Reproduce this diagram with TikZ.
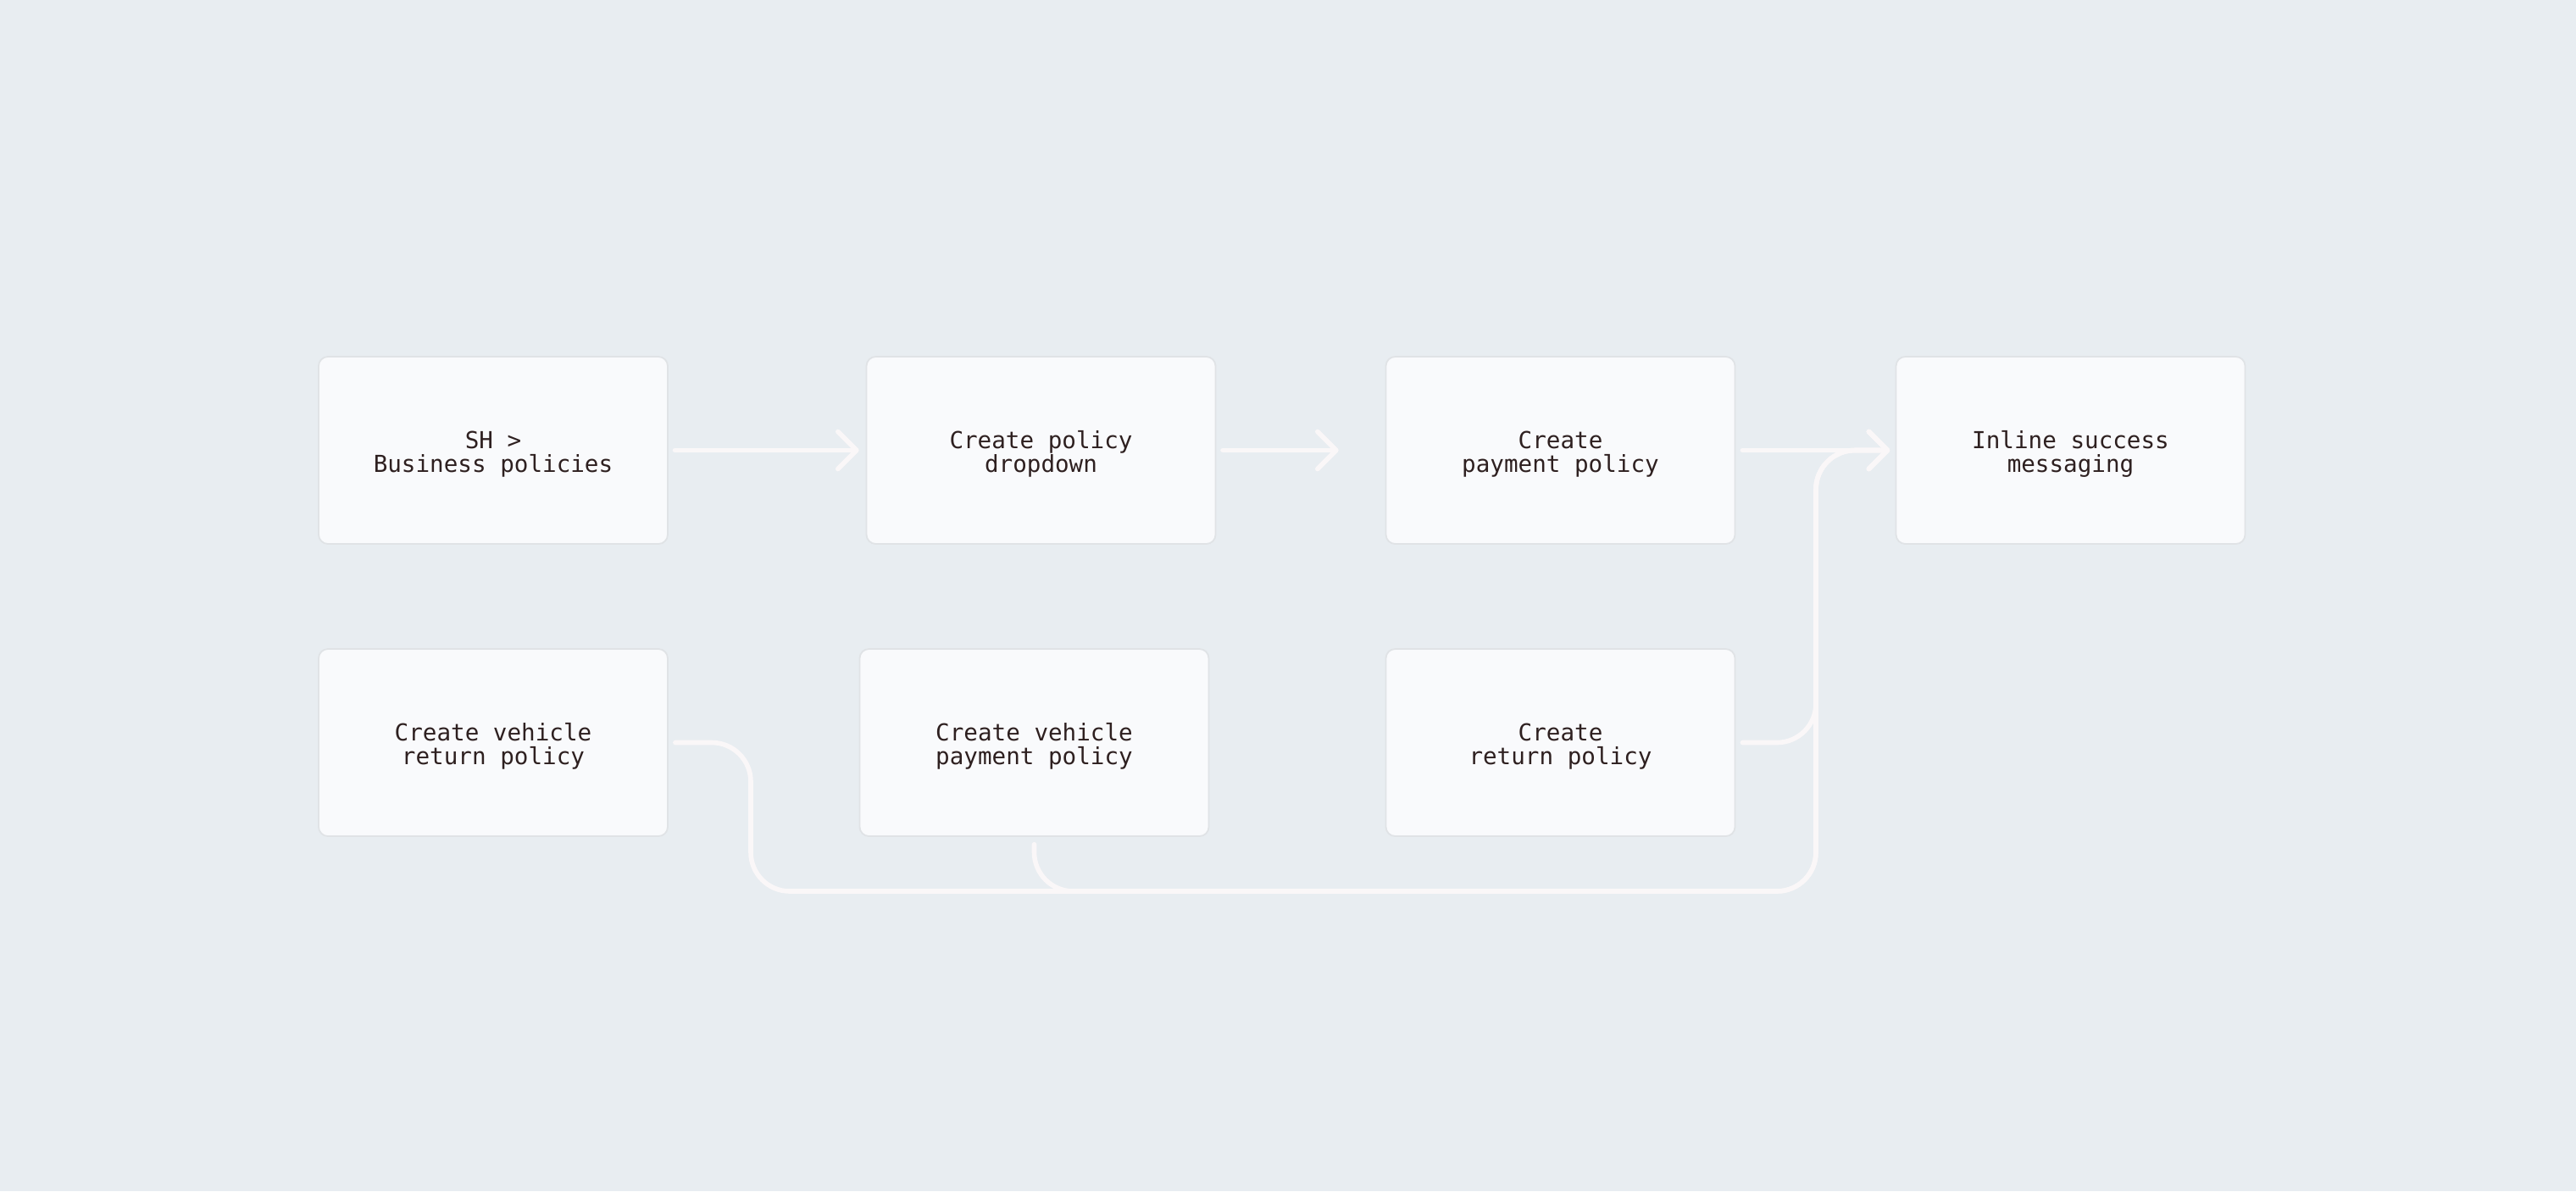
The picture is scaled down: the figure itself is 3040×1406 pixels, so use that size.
\documentclass[tikz,border=0pt]{standalone}
\usepackage{fontspec}
\setmonofont{DejaVu Sans Mono}
\usetikzlibrary{arrows.meta}
\definecolor{bgc}{RGB}{232,237,241}
\definecolor{boxfill}{RGB}{249,250,252}
\definecolor{boxline}{RGB}{224,227,230}
\definecolor{linec}{RGB}{250,247,248}
\definecolor{txtc}{RGB}{46,32,32}
\newcommand{\topstrut}{\rule{0pt}{7.3pt}}
\begin{document}
\begin{tikzpicture}[x=0.25pt,y=-0.25pt,
  box/.style={draw=boxline, line width=0.45pt, fill=boxfill, rounded corners=2.75pt,
    minimum width=103pt, minimum height=55.25pt, align=center, inner sep=0pt,
    text=txtc, font=\fontsize{6.9pt}{7pt}\selectfont\ttfamily},
  conn/.style={draw=linec, line width=1.4pt, line cap=round, line join=round,
    rounded corners=11.5pt},
  tip/.style={-{Straight Barb[length=5.5pt,width=11pt,round]}}
]
\fill[bgc] (0,0) rectangle (3040,1406);
\useasboundingbox (0,0) rectangle (3040,1406);

\node[box] (b1) at (582,531.5) {\topstrut SH >\\Business policies};
\node[box] (b2) at (1228.5,531.5) {\topstrut Create policy\\dropdown};
\node[box] (b3) at (1841.5,531.5) {\topstrut Create\\payment policy};
\node[box] (b4) at (2443.5,531.5) {\topstrut Inline success\\messaging};
\node[box] (b5) at (582,876.5) {\topstrut Create vehicle\\return policy};
\node[box] (b6) at (1220.5,876.5) {\topstrut Create vehicle\\payment policy};
\node[box] (b7) at (1841.5,876.5) {\topstrut Create\\return policy};

\coordinate (tb) at (2143,1052);
\coordinate (tt) at (2143,531.5);
\coordinate (tm) at (2143,876.5);
\coordinate (l5) at (886,876.5);
\coordinate (l5b) at (886,1052);
\coordinate (l6b) at (1220.5,1052);

\draw[conn, tip, shorten <=1.9pt, shorten >=2pt] (b1.east) -- (b2.west);
\draw[conn, tip, shorten <=1.9pt, shorten >=13.75pt] (b2.east) -- (b3.west);
\draw[conn, tip, shorten <=2pt, shorten >=1.6pt] (b3.east) -- (b4.west);

\draw[conn, tip, shorten <=2pt, shorten >=1.6pt] (b5.east) -- (l5) -- (l5b) -- (tb) -- (tt) -- (b4.west);
\draw[conn, tip, shorten <=2.2pt, shorten >=1.6pt] (b6.south) -- (l6b) -- (tb) -- (tt) -- (b4.west);
\draw[conn, tip, shorten <=2pt, shorten >=1.6pt] (b7.east) -- (tm) -- (tt) -- (b4.west);
\end{tikzpicture}
\end{document}
